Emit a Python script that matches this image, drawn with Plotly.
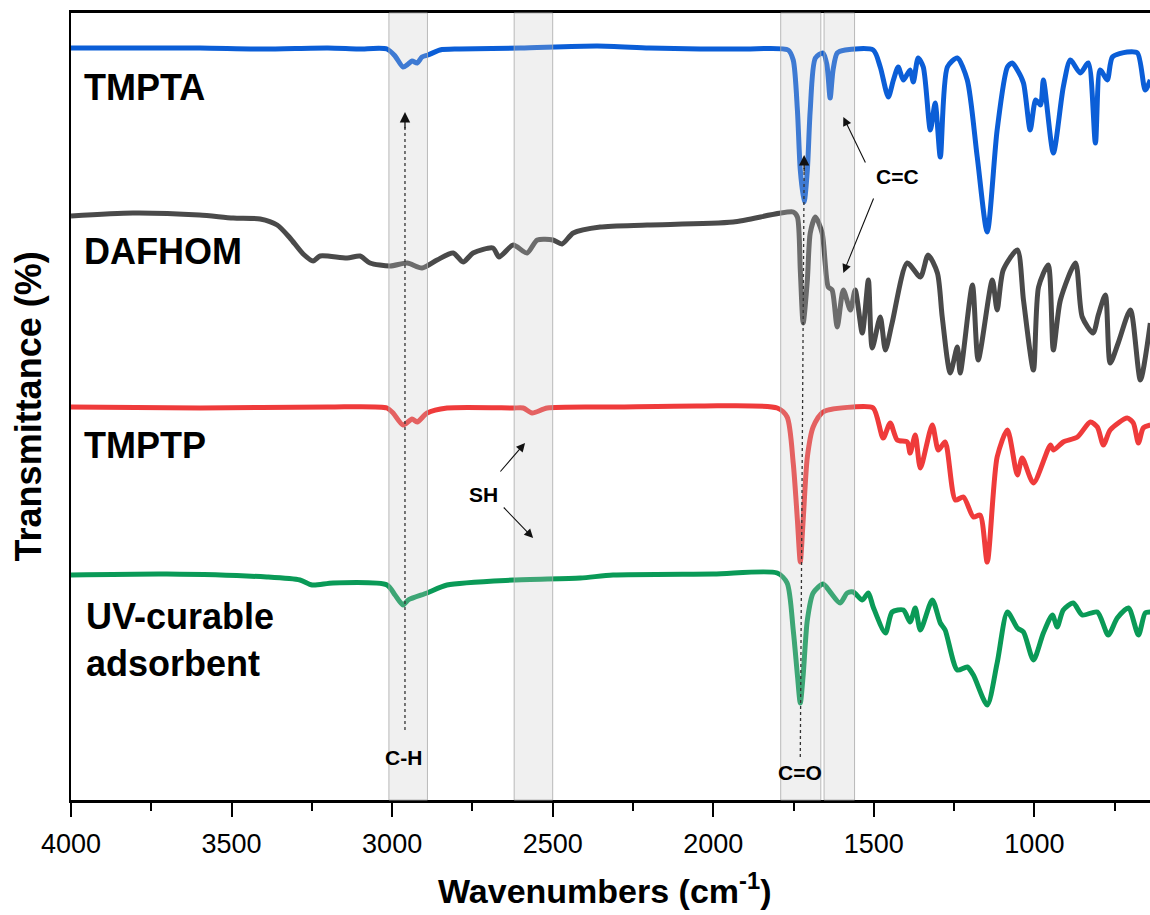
import plotly.graph_objects as go

FONT = "Liberation Sans, Arial, sans-serif"

# ---------------- data (wavenumber in cm-1, transmittance offset in a.u.) ----------------
tmpta_wn = [4000, 3800, 3598, 3400, 3200, 3106, 3016, 2991, 2966, 2950, 2938, 2922, 2907, 2888, 2851, 2790,
            2600, 2361, 2200, 2041, 1900, 1767, 1751, 1738, 1729, 1717, 1707, 1698, 1682, 1658, 1646, 1636,
            1627, 1614, 1589, 1502, 1480, 1455, 1439, 1424, 1408, 1387, 1377, 1362, 1346, 1324, 1309, 1293,
            1271, 1240, 1209, 1178, 1147, 1116, 1084, 1069, 1053, 1034, 1013, 996, 981, 972, 941, 910, 888,
            857, 832, 810, 795, 773, 757, 711, 679, 655, 639]
tmpta_t = [752, 752, 752, 751, 752, 751, 751, 744, 733, 736, 739, 737, 743, 745, 750, 751,
           752, 754, 752, 751, 751, 750, 740, 690, 630, 598, 630, 690, 742, 747, 735, 702,
           730, 747, 750, 750, 733, 703, 720, 733, 720, 730, 718, 742, 733, 670, 697, 643,
           733, 742, 720, 643, 568, 670, 733, 737, 730, 717, 670, 700, 695, 720, 647, 713, 740,
           727, 737, 657, 730, 720, 743, 748, 747, 710, 720]

dafhom_wn = [4000, 3807, 3600, 3495, 3411, 3358, 3318, 3277, 3246, 3224, 3140, 3100, 3069, 3006, 2953, 2907,
             2860, 2810, 2779, 2748, 2686, 2667, 2623, 2580, 2548, 2499, 2471, 2436, 2352, 2206, 1938, 1751,
             1738, 1729, 1720, 1707, 1698, 1682, 1661, 1642, 1630, 1614, 1595, 1573, 1558, 1536, 1517, 1505,
             1480, 1464, 1443, 1396, 1355, 1331, 1302, 1287, 1262, 1240, 1231, 1193, 1175, 1131, 1116, 1097,
             1053, 1034, 1003, 987, 957, 941, 919, 872, 851, 817, 801, 779, 764, 739, 701, 670, 639]
dafhom_t = [584, 587, 585, 582, 581, 575, 562, 546, 539, 544, 542, 544, 537, 534, 537, 532,
            540, 547, 538, 547, 552, 543, 555, 547, 560, 560, 556, 567, 573, 575, 578, 588,
            583, 530, 477, 520, 567, 583, 567, 513, 510, 473, 510, 490, 510, 467, 520, 452,
            483, 450, 477, 537, 523, 545, 527, 483, 427, 453, 427, 515, 440, 520, 490, 530,
            550, 500, 430, 513, 535, 450, 500, 537, 483, 467, 485, 505, 437, 457, 490, 420, 477]

tmptp_wn = [4000, 3598, 3200, 3016, 2997, 2966, 2938, 2922, 2891, 2829, 2623, 2592, 2564, 2517, 2300, 2041,
            1801, 1770, 1751, 1738, 1729, 1720, 1707, 1689, 1658, 1564, 1502, 1471, 1449, 1427, 1396, 1387,
            1371, 1355, 1318, 1299, 1278, 1246, 1221, 1190, 1169, 1147, 1116, 1084, 1053, 1038, 1003, 950,
            941, 910, 866, 826, 804, 785, 764, 711, 692, 676, 661, 639]
tmptp_t = [393, 392, 393, 392, 387, 375, 381, 378, 387, 392, 392, 392, 387, 392, 393, 394,
           392, 383, 337, 280, 238, 280, 343, 373, 388, 393, 392, 362, 377, 360, 358, 347,
           365, 332, 375, 350, 358, 300, 303, 283, 285, 238, 343, 370, 325, 342, 317, 355,
           350, 358, 363, 378, 373, 355, 370, 382, 377, 357, 372, 375]

uv_wn = [4000, 3701, 3390, 3287, 3249, 3184, 3016, 2991, 2966, 2950, 2891, 2829, 2623, 2414, 2312, 2000,
         1801, 1770, 1751, 1738, 1729, 1720, 1707, 1689, 1658, 1636, 1605, 1583, 1564, 1536, 1517, 1502,
         1464, 1443, 1408, 1387, 1371, 1355, 1318, 1293, 1278, 1240, 1209, 1190, 1147, 1116, 1084, 1053,
         1034, 1003, 972, 944, 929, 910, 879, 851, 804, 770, 742, 707, 676, 655, 639]
uv_t = [225, 226, 223, 220, 215, 217, 215, 205, 195, 200, 207, 215, 220, 222, 225, 226,
        227, 217, 170, 125, 97, 125, 180, 207, 216, 208, 197, 207, 208, 200, 207, 193,
        167, 188, 190, 178, 192, 170, 200, 177, 170, 130, 133, 125, 95, 137, 188, 172,
        168, 140, 167, 185, 173, 190, 197, 185, 188, 165, 182, 192, 165, 187, 188]

series_names = ["TMPTA", "DAFHOM", "TMPTP", "UV-curable adsorbent"]
series_colors = ["#0b5ed7", "#4a4a4a", "#ef3b3b", "#0a9a57"]

# highlighted wavenumber regions (cm-1)
band_lo = [2890, 2500, 1665, 1560]
band_hi = [3010, 2620, 1790, 1655]

x_ticks = [4000, 3500, 3000, 2500, 2000, 1500, 1000]

# ---------------- figure ----------------
fig = go.Figure()
for wn, t, name, col in zip([tmpta_wn, dafhom_wn, tmptp_wn, uv_wn],
                            [tmpta_t, dafhom_t, tmptp_t, uv_t],
                            series_names, series_colors):
    fig.add_trace(go.Scatter(x=wn, y=t, mode="lines", name=name,
                             line=dict(color=col, width=5, shape="spline", smoothing=0.7),
                             showlegend=False))

for lo, hi in zip(band_lo, band_hi):
    fig.add_shape(type="rect", xref="x", yref="paper", x0=hi, x1=lo, y0=0, y1=1,
                  fillcolor="rgba(200,200,200,0.27)", line=dict(color="rgba(170,170,170,0.8)", width=1),
                  layer="above")

# dotted guide lines
fig.add_shape(type="line", xref="x", yref="y", x0=2960, x1=2960, y0=70, y1=676,
              line=dict(color="#333333", width=1.3, dash="dot"))
fig.add_shape(type="line", xref="x", yref="y", x0=1729, x1=1717, y0=43, y1=632,
              line=dict(color="#333333", width=1.3, dash="dot"))

ann = []
lab_font = dict(family=FONT, size=36, color="black")
ann.append(dict(x=3966, y=713, text="<b>TMPTA</b>"))
ann.append(dict(x=3966, y=549, text="<b>DAFHOM</b>"))
ann.append(dict(x=3966, y=355, text="<b>TMPTP</b>"))
ann.append(dict(x=3958, y=160, text="<b>UV-curable<br>adsorbent</b>"))
for a in ann:
    a.update(xref="x", yref="y", xanchor="left", yanchor="middle", showarrow=False,
             font=lab_font, align="left")

small = dict(family=FONT, size=21, color="black")
for x, y, txt in [(2965, 43, "C-H"), (1729, 28, "C=O"), (1427, 624, "C=C"), (2717, 306, "SH")]:
    ann.append(dict(x=x, y=y, xref="x", yref="y", text="<b>%s</b>" % txt, showarrow=False,
                    font=small, xanchor="center", yanchor="middle"))

# arrows (tail -> head), incl. heads of the dotted guide lines
for hx, hy, tx, ty, w in [(1595, 683, 1524, 636, 1.1), (1595, 527, 1499, 603, 1.1),
                          (2586, 357, 2667, 327, 1.1), (2561, 262, 2657, 294, 1.1),
                          (2960, 688, 2960, 670, 1.3), (1717, 645, 1717, 627, 1.3)]:
    ann.append(dict(x=hx, y=hy, ax=tx, ay=ty, xref="x", yref="y", axref="x", ayref="y",
                    text="", showarrow=True, arrowhead=2, arrowsize=1.6, arrowwidth=w,
                    arrowcolor="#111111"))

# axis titles
ann.append(dict(xref="paper", yref="paper", x=-0.039, y=0.5, textangle=-90,
                text="<b>Transmittance (%)</b>", showarrow=False,
                font=dict(family=FONT, size=36, color="black"), xanchor="center", yanchor="middle"))
ann.append(dict(xref="paper", yref="paper", x=0.495, y=-0.112,
                text="<b>Wavenumbers (cm<sup>-1</sup>)</b>", showarrow=False,
                font=dict(family=FONT, size=34, color="black"), xanchor="center", yanchor="middle"))

fig.update_layout(
    width=1150, height=915,
    margin=dict(l=71, r=0, t=13, b=115),
    plot_bgcolor="white", paper_bgcolor="white",
    annotations=ann,
    xaxis=dict(range=[4000, 640], tickmode="array", tickvals=x_ticks,
               ticktext=[str(v) for v in x_ticks], ticks="outside", ticklen=14, tickwidth=2,
               tickcolor="black", showline=True, linecolor="black", linewidth=2.5, mirror=True,
               showgrid=False, zeroline=False, ticklabelstandoff=4,
               tickfont=dict(family=FONT, size=27, color="black"),
               minor=dict(tickmode="linear", tick0=0, dtick=250, ticks="outside", ticklen=8,
                          tickwidth=2, tickcolor="black", showgrid=False)),
    yaxis=dict(range=[0, 787], showticklabels=False, ticks="", showline=True, linecolor="black",
               linewidth=2, showgrid=False, zeroline=False),
)

fig.write_html("out.html", config={"displayModeBar": False},
               post_script="document.body.style.margin='0px';document.body.style.overflow='hidden';")
